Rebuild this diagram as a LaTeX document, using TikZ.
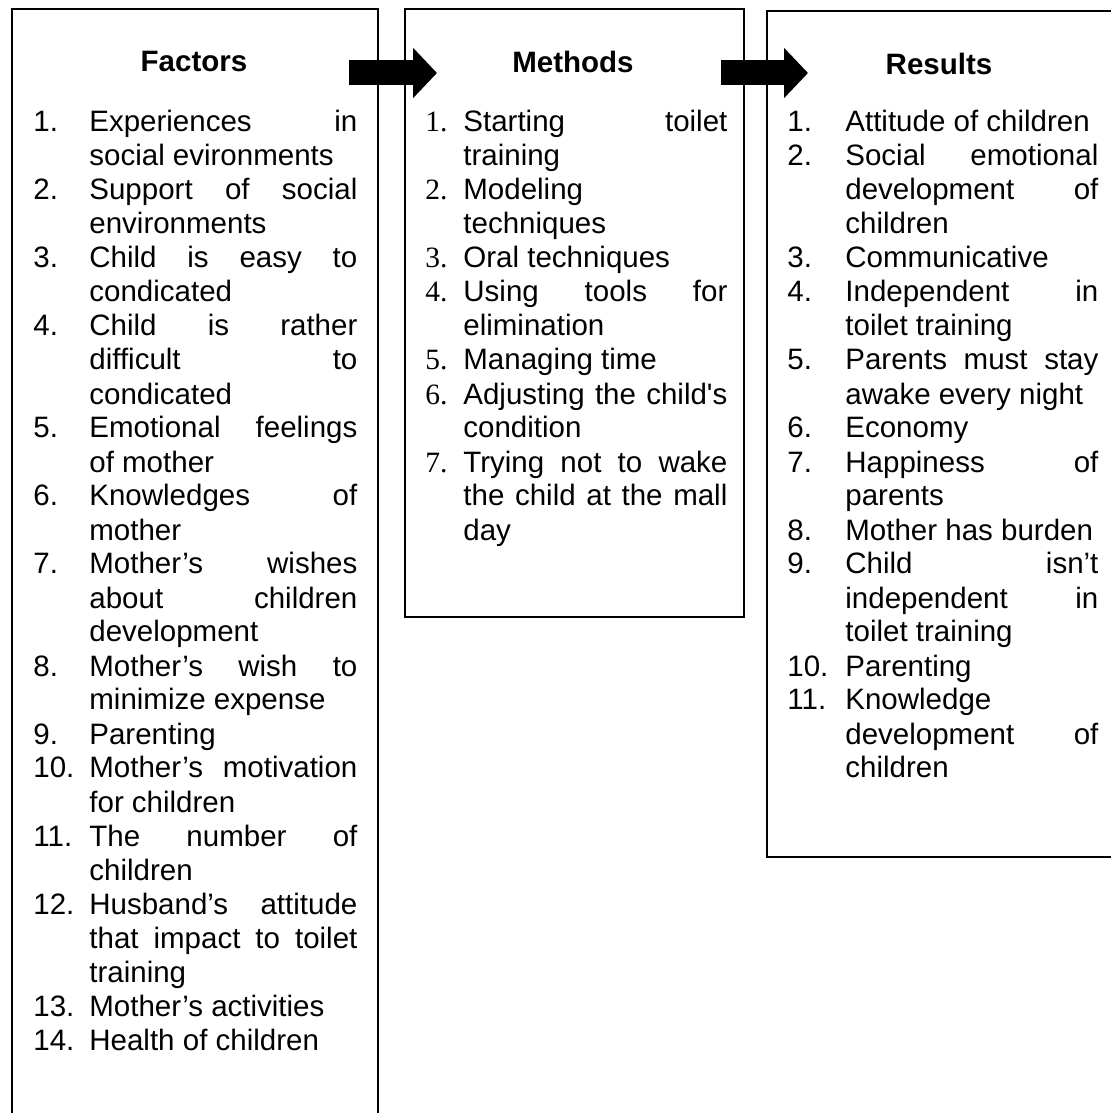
\documentclass[tikz,border=0pt]{standalone}
\usepackage{fontspec}
\setmainfont{Liberation Sans}
\newfontfamily\numserif{Liberation Serif}
\usetikzlibrary{arrows.meta}

\tolerance=10000
\hyphenpenalty=10000
\newlength{\labw}
\newcommand{\litem}[2]{\hangindent=\labw\hangafter=1\noindent\makebox[\labw][l]{#1}#2\par}

\tikzset{
  box/.style={draw, line width=1pt, inner sep=0pt, anchor=north west},
  list/.style={anchor=base west, inner sep=0pt, align=justify, font=\fontsize{14.75}{17}\selectfont},
  heading/.style={anchor=base, inner sep=0pt, font=\fontsize{14.75}{17}\selectfont\bfseries},
  bigarrow/.style={line width=12.5pt, -{Triangle[length=12pt,width=24.5pt]}}
}

\begin{document}
\begin{tikzpicture}[x=0.5pt,y=-0.5pt]
\useasboundingbox (0,0) rectangle (1110,1113);

% the three boxes
\node[box, minimum width=183pt, minimum height=560pt] (factors) at (11,8) {};
\node[box, minimum width=169.5pt, minimum height=304pt] (methods) at (404,8) {};
\node[box, minimum width=174.5pt, minimum height=423pt] (results) at (766,10) {};

% arrows between them
\draw[bigarrow] ([xshift=-15pt,yshift=-32.5pt]factors.north east)
  -- ([xshift=16.5pt,yshift=-32.5pt]methods.north west);
\draw[bigarrow] ([xshift=-12pt,yshift=-32.5pt]methods.north east)
  -- ([xshift=21pt,yshift=-31.5pt]results.north west);

% headings
\node[heading] (facttitle) at (194,72) {Factors};
\node[heading] (methtitle) at (573,73) {Methods};
\node[heading] (restitle) at (939,75) {Results};

% lists
\node[list, text width=162pt] (factlist) at (33,132) {\setlength{\labw}{28pt}%
\litem{1.}{Experiences in\linebreak social evironments}
\litem{2.}{Support of social\linebreak environments}
\litem{3.}{Child is easy to\linebreak condicated}
\litem{4.}{Child is rather\linebreak difficult to\linebreak condicated}
\litem{5.}{Emotional feelings\linebreak of mother}
\litem{6.}{Knowledges of\linebreak mother}
\litem{7.}{Mother’s wishes\linebreak about children\linebreak development}
\litem{8.}{Mother’s wish to\linebreak minimize expense}
\litem{9.}{Parenting}
\litem{10.}{Mother’s motivation\linebreak for children}
\litem{11.}{The number of\linebreak children}
\litem{12.}{Husband’s attitude\linebreak that impact to toilet\linebreak training}
\litem{13.}{Mother’s activities}
\litem{14.}{Health of children}};

\node[list, text width=151pt] (methlist) at (425,132) {\setlength{\labw}{19pt}%
\litem{\numserif 1.}{Starting toilet\linebreak training}
\litem{\numserif 2.}{Modeling\linebreak techniques}
\litem{\numserif 3.}{Oral techniques}
\litem{\numserif 4.}{Using tools for\linebreak elimination}
\litem{\numserif 5.}{Managing time}
\litem{\numserif 6.}{Adjusting the child\textquotesingle s\linebreak condition}
\litem{\numserif 7.}{Trying not to wake\linebreak the child at the mall\linebreak day}};

\node[list, text width=155.5pt] (reslist) at (787,132) {\setlength{\labw}{29pt}%
\litem{1.}{Attitude of children}
\litem{2.}{Social emotional\linebreak development of\linebreak children}
\litem{3.}{Communicative}
\litem{4.}{Independent in\linebreak toilet training}
\litem{5.}{Parents must stay\linebreak awake every night}
\litem{6.}{Economy}
\litem{7.}{Happiness of\linebreak parents}
\litem{8.}{Mother has burden}
\litem{9.}{Child isn’t\linebreak independent in\linebreak toilet training}
\litem{10.}{Parenting}
\litem{11.}{Knowledge\linebreak development of\linebreak children}};
\end{tikzpicture}
\end{document}
